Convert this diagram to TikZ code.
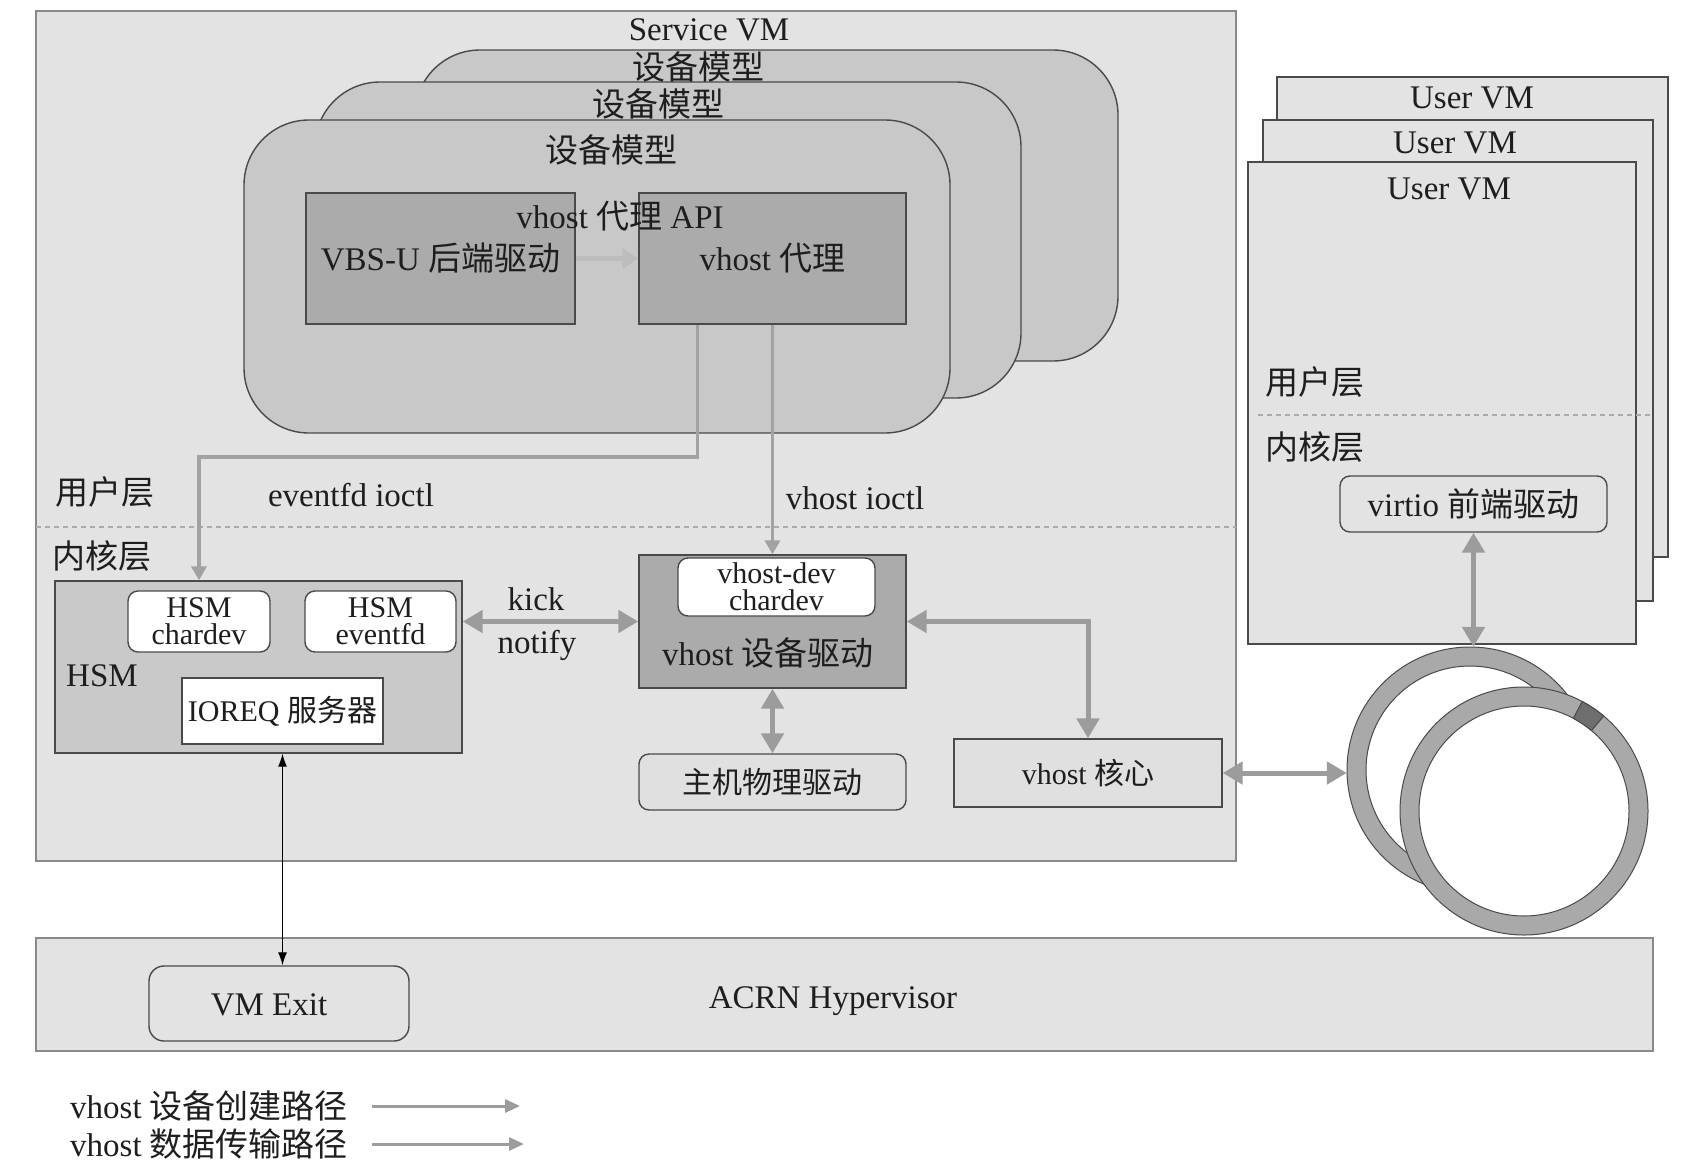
\documentclass[tikz,border=0pt]{standalone}
\usepackage{fontspec}
\setmainfont{Liberation Serif}
\newfontfamily\cjkfont{Noto Sans CJK SC}
\newcommand{\zhs}[1]{{\cjkfont #1}}
\usetikzlibrary{arrows.meta,calc}
\definecolor{bgA}{HTML}{E3E3E3}
\definecolor{bgB}{HTML}{E0E0E0}
\definecolor{dmgray}{HTML}{C8C8C8}
\definecolor{boxdark}{HTML}{ABABAB}
\definecolor{hsmgray}{HTML}{C9C9C9}
\definecolor{edgedark}{HTML}{4A4A4A}
\definecolor{edgemid}{HTML}{8A8A8A}
\definecolor{ink}{HTML}{1E1E1E}
\definecolor{arrowgray}{HTML}{9C9C9C}
\definecolor{creategray}{HTML}{A2A2A2}
\definecolor{lightarrow}{HTML}{BDBDBD}
\definecolor{ringgray}{HTML}{A9A9A9}
\definecolor{ringdark}{HTML}{6E6E6E}
\definecolor{dashgray}{HTML}{AAAAAA}
\begin{document}
\begin{tikzpicture}[x=1pt,y=-1pt,
  txt/.style={text=ink, font=\fontsize{33}{36}\selectfont, inner sep=0pt},
  blk/.style={draw=edgedark, line width=1.4pt, inner sep=0pt, text=ink, font=\fontsize{33}{36}\selectfont},
  small/.style={font=\fontsize{30}{27}\selectfont},
  wbox/.style={blk, fill=white, rounded corners=10pt, align=center, font=\fontsize{30}{27}\selectfont},
  data/.style={draw=arrowgray, line width=5pt, {Triangle[length=20pt,width=22pt]}-{Triangle[length=20pt,width=22pt]}},
  create/.style={draw=creategray, line width=3.5pt, -{Triangle[length=14pt,width=15pt]}},
  legarrow/.style={draw=arrowgray, line width=3pt, -{Triangle[length=15pt,width=13pt]}},
  dashline/.style={draw=dashgray, line width=2pt, dash pattern=on 5pt off 4pt},
  ringedge/.style={draw=edgedark, line width=1pt}
]
\useasboundingbox (0,0) rectangle (1697,1170);
\fill[white] (0,0) rectangle (1697,1170);

% Service VM
\node[blk, fill=bgA, draw=edgemid, minimum width=1200, minimum height=850] (svm) at (636,436) {};

% device models
\node[blk, fill=dmgray, rounded corners=65pt, minimum width=703, minimum height=311] (dm3) at (766.5,205.5) {};
\node[blk, fill=dmgray, rounded corners=65pt, minimum width=706, minimum height=316] (dm2) at (668,240) {};
\node[blk, fill=dmgray, rounded corners=65pt, minimum width=706, minimum height=313] (dm1) at (597,276.5) {};
\node[txt] (svmT) at (709,30) {Service VM};
\node[txt] (dm3T) at (698,67) {\zhs{设备模型}};
\node[txt] (dm2T) at (658,104) {\zhs{设备模型}};
\node[txt] (dm1T) at (611,150) {\zhs{设备模型}};

\node[blk, fill=boxdark, minimum width=269, minimum height=131] (vbsu) at (440.5,258.5) {VBS-U \zhs{后端驱动}};
\node[blk, fill=boxdark, minimum width=267, minimum height=131] (proxy) at (772.5,258.5) {vhost \zhs{代理}};
\node[txt] (api) at (620,216) {vhost \zhs{代理} API};
\draw[draw=lightarrow, line width=5pt, -{Triangle[length=16pt,width=20pt]}] (vbsu.east) -- (proxy.west);

% layers
\node[txt] (ulay) at (105,492) {\zhs{用户层}};
\node[txt] (klay) at (102,556) {\zhs{内核层}};
\coordinate (divL) at (36,527);
\coordinate (divR) at (1236,527);
\draw[dashline] (divL) -- (divR);

% HSM
\node[blk, fill=hsmgray, minimum width=407, minimum height=172] (hsm) at (258.5,667) {};
\node[wbox, minimum width=142, minimum height=61] (hsmc) at (199,621.5) {HSM\\chardev};
\node[wbox, minimum width=151, minimum height=61] (hsme) at (380.5,621.5) {HSM\\eventfd};
\node[txt] (hsmT) at (102,676) {HSM};
\node[blk, small, fill=white, minimum width=201, minimum height=66] (ioreq) at (282.5,711) {IOREQ \zhs{服务器}};

% vhost device driver
\node[blk, fill=boxdark, minimum width=267, minimum height=133] (vdd) at (772.5,621.5) {};
\node[txt] (vddT) at (768,653) {vhost \zhs{设备驱动}};
\node[wbox, minimum width=197, minimum height=58] (vdc) at (776.5,587) {vhost-dev\\chardev};
\node[blk, small, fill=bgB, rounded corners=10pt, minimum width=267, minimum height=56] (phys) at (772.5,782) {\zhs{主机物理驱动}};
\node[blk, small, fill=bgB, minimum width=268, minimum height=68] (core) at (1088,773) {vhost \zhs{核心}};

\node[txt] (kick) at (536,599) {kick};
\node[txt] (notify) at (537,645) {notify};
\node[txt] (evlbl) at (351,495) {eventfd ioctl};
\node[txt] (iolbl) at (855,498) {vhost ioctl};

% creation path connectors
\coordinate (evbend) at (0,457);
\draw[create] ($(proxy.south west)!0.22!(proxy.south east)$) |- (evbend -| hsmc.north) -- (hsmc.north |- hsm.north);
\draw[create] (proxy.south) -- (vdd.north);

% data path connectors
\draw[data] (hsm.east |- vdd.west) -- (vdd.west);
\draw[data] (vdd.south) -- (phys.north);
\draw[data] (vdd.east) -| (core.north);

% User VMs
\node[blk, fill=bgA, draw=edgedark, minimum width=391, minimum height=480] (uvm3) at (1472.5,317) {};
\node[blk, fill=bgA, draw=edgedark, minimum width=390, minimum height=481] (uvm2) at (1458,360.5) {};
\node[blk, fill=bgA, draw=edgedark, minimum width=388, minimum height=482] (uvm1) at (1442,403) {};
\node[txt] (uvm3T) at (1472,98) {User VM};
\node[txt] (uvm2T) at (1455,143) {User VM};
\node[txt] (uvm1T) at (1449,189) {User VM};
\node[txt] (uulay) at (1315,382) {\zhs{用户层}};
\node[txt] (uklay) at (1315,447) {\zhs{内核层}};
\coordinate (udivL) at (1258,415);
\coordinate (udivR) at (1650,415);
\draw[dashline, line width=1.5pt] (udivL) -- (udivR);
\node[blk, fill=bgA, rounded corners=10pt, minimum width=267, minimum height=56] (virtio) at (1473.5,504) {virtio \zhs{前端驱动}};

% rings
\node[circle, minimum size=246, inner sep=0pt] (ringB) at (1470,770) {};
\node[circle, minimum size=248, inner sep=0pt] (ringF) at (1524,811) {};
\draw[ringedge, fill=ringgray, even odd rule] (ringB.center) circle[radius=123] (ringB.center) circle[radius=104];
\draw[ringedge, fill=ringgray] (ringF.center) circle[radius=124];
\draw[ringedge, fill=white] (ringF.center) circle[radius=105];
\draw[ringedge, fill=ringdark] ($(ringF.center)+(-50:124)$) arc[start angle=-50, end angle=-62, radius=124] -- ($(ringF.center)+(-62:105)$) arc[start angle=-62, end angle=-50, radius=105] -- cycle;

\draw[data] (core.east) -- (core.east -| ringB.west);
\draw[data] (virtio.south) -- (virtio.south |- ringB.north);

% Hypervisor
\node[blk, fill=bgA, draw=edgemid, minimum width=1617, minimum height=113] (hyp) at (844.5,994.5) {};
\node[blk, fill=bgA, rounded corners=15pt, minimum width=260, minimum height=75] (vmexit) at (279,1003.5) {};
\node[txt] (vmexitT) at (269,1005) {VM Exit};
\node[txt] (hypT) at (833,1001) {ACRN Hypervisor};
\draw[black, line width=1.2pt, {Latex[length=13pt,width=9pt]}-{Latex[length=13pt,width=9pt]}] (ioreq.south |- hsm.south) -- (ioreq.south |- vmexit.north);

% legend
\node[txt, anchor=west] (leg1) at (70,1106) {vhost \zhs{设备创建路径}};
\node[txt, anchor=west] (leg2) at (70,1144) {vhost \zhs{数据传输路径}};
\coordinate (leg1e) at (520,1106);
\coordinate (leg2e) at (524,1144);
\draw[legarrow] ([xshift=24pt]leg1.east) -- (leg1e);
\draw[legarrow] ([xshift=24pt]leg2.east) -- (leg2e);
\end{tikzpicture}
\end{document}
